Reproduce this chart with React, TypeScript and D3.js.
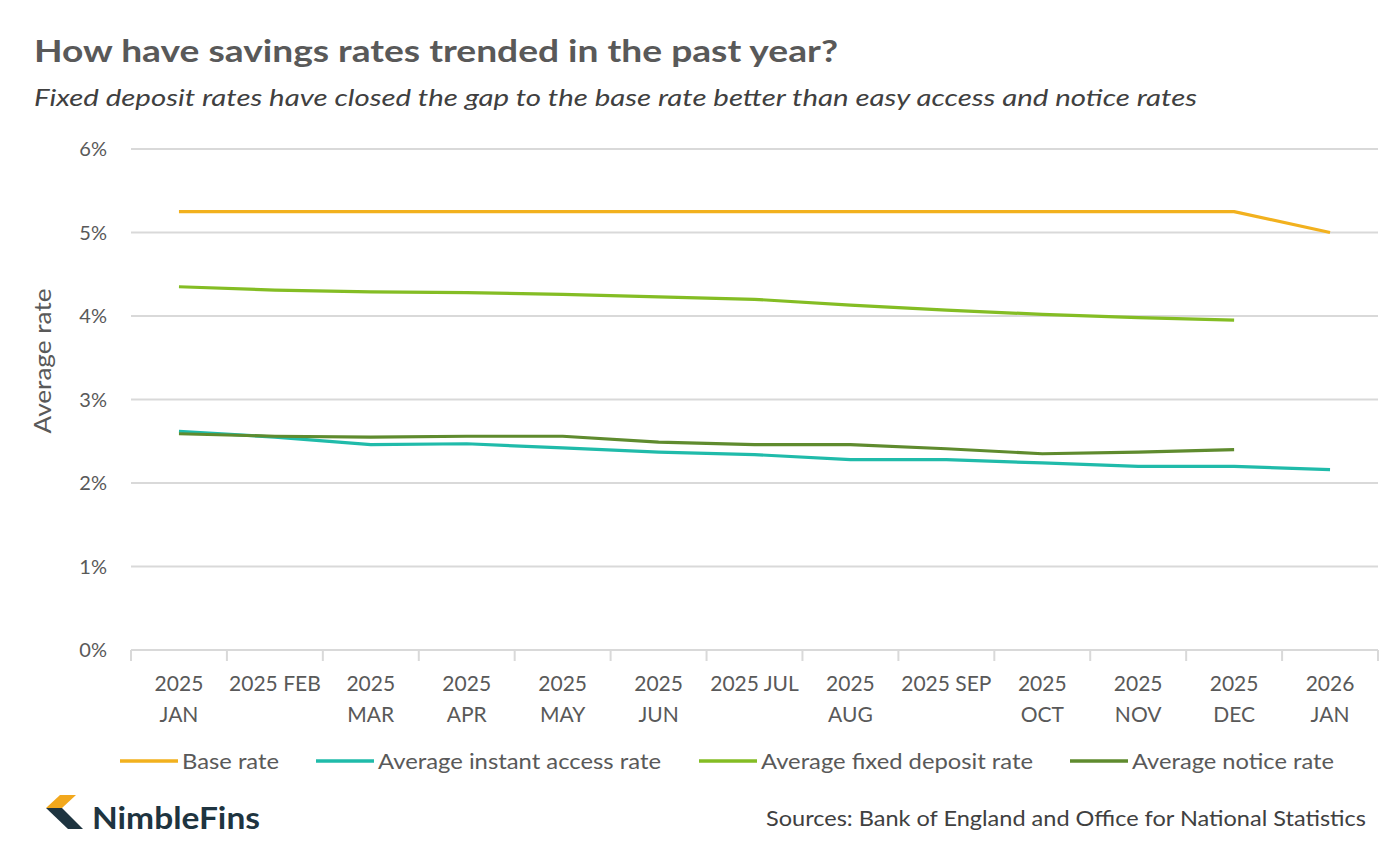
import React, { useEffect, useRef } from "react";
import * as d3 from "d3";

// month labels, already broken into lines the way the axis shows them
const months = [
  ["2025", "JAN"], ["2025 FEB"], ["2025", "MAR"], ["2025", "APR"], ["2025", "MAY"],
  ["2025", "JUN"], ["2025 JUL"], ["2025", "AUG"], ["2025 SEP"], ["2025", "OCT"],
  ["2025", "NOV"], ["2025", "DEC"], ["2026", "JAN"],
];

const baseRate = [5.25, 5.25, 5.25, 5.25, 5.25, 5.25, 5.25, 5.25, 5.25, 5.25, 5.25, 5.25, 5.0];
const instantAccess = [2.62, 2.55, 2.46, 2.47, 2.42, 2.37, 2.34, 2.28, 2.28, 2.24, 2.2, 2.2, 2.16];
const fixedDeposit = [4.35, 4.31, 4.29, 4.28, 4.26, 4.23, 4.2, 4.13, 4.07, 4.02, 3.98, 3.95, null];
const noticeRate = [2.59, 2.56, 2.55, 2.56, 2.56, 2.49, 2.46, 2.46, 2.41, 2.35, 2.37, 2.4, null];

const yTicks = [0, 1, 2, 3, 4, 5, 6];

const series = [
  { name: "Base rate", values: baseRate, color: "#F2B11E", width: 97 },
  { name: "Average instant access rate", values: instantAccess, color: "#20BBAA", width: 283 },
  { name: "Average fixed deposit rate", values: fixedDeposit, color: "#84BD24", width: 272 },
  { name: "Average notice rate", values: noticeRate, color: "#5F8B2E", width: 202 },
];

const W = 1400;
const H = 852;
const font = "Lato, 'Open Sans', sans-serif";
const grey = "#595959";

const SavingsChart = () => {
  const svgRef = useRef<SVGSVGElement>(null);

  useEffect(() => {
    const svg = d3.select(svgRef.current);
    svg.selectAll("*").remove();

    const left = 131;
    const right = 1378;
    const top = 149;
    const bottom = 650;

    const x = d3.scaleBand<number>().domain(months.map((_, i) => i)).range([left, right]);
    const y = d3.scaleLinear().domain([0, 6]).range([bottom, top]);
    const cx = (i: number) => (x(i) as number) + x.bandwidth() / 2;

    // titles
    svg.append("text")
      .attr("x", 34).attr("y", 62)
      .attr("font-family", font).attr("font-weight", 700).attr("font-size", 30)
      .attr("fill", grey)
      .attr("textLength", 804).attr("lengthAdjust", "spacingAndGlyphs")
      .text("How have savings rates trended in the past year?");
    svg.append("text")
      .attr("x", 34).attr("y", 106)
      .attr("font-family", font).attr("font-style", "italic").attr("font-size", 23)
      .attr("fill", "#404040")
      .attr("textLength", 1163).attr("lengthAdjust", "spacingAndGlyphs")
      .text("Fixed deposit rates have closed the gap to the base rate better than easy access and notice rates");

    // gridlines and y labels
    const grid = svg.append("g");
    grid.selectAll("line")
      .data(yTicks.filter((t) => t > 0))
      .join("line")
      .attr("x1", left).attr("x2", right)
      .attr("y1", (d) => y(d)).attr("y2", (d) => y(d))
      .attr("stroke", "#D9D9D9").attr("stroke-width", 2);
    grid.selectAll("text")
      .data(yTicks)
      .join("text")
      .attr("x", 107).attr("y", (d) => y(d)).attr("dy", "0.35em")
      .attr("text-anchor", "end")
      .attr("font-family", font).attr("font-size", 20).attr("fill", grey)
      .text((d) => `${d}%`);

    svg.append("text")
      .attr("transform", `translate(51,361) rotate(-90)`)
      .attr("text-anchor", "middle")
      .attr("font-family", font).attr("font-size", 23).attr("fill", grey)
      .attr("textLength", 145).attr("lengthAdjust", "spacingAndGlyphs")
      .text("Average rate");

    // x axis: baseline, ticks between months, wrapped labels
    const xAxis = svg.append("g");
    xAxis.append("line")
      .attr("x1", left).attr("x2", right).attr("y1", bottom).attr("y2", bottom)
      .attr("stroke", "#D9D9D9").attr("stroke-width", 2);
    xAxis.selectAll(".tick")
      .data(d3.range(months.length + 1))
      .join("line")
      .attr("class", "tick")
      .attr("x1", (i) => left + i * x.step()).attr("x2", (i) => left + i * x.step())
      .attr("y1", bottom).attr("y2", bottom + 11)
      .attr("stroke", "#D9D9D9").attr("stroke-width", 2);
    const labels = xAxis.selectAll(".lbl")
      .data(months)
      .join("text")
      .attr("class", "lbl")
      .attr("text-anchor", "middle")
      .attr("font-family", font).attr("font-size", 21).attr("fill", grey);
    labels.each(function (lines, i) {
      d3.select(this).selectAll("tspan")
        .data(lines)
        .join("tspan")
        .attr("x", cx(i))
        .attr("y", (_, j) => 691 + j * 31)
        .text((d) => d);
    });

    // series lines
    const line = d3.line<number | null>()
      .defined((d) => d != null)
      .x((_, i) => cx(i))
      .y((d) => y(d as number));
    svg.append("g").selectAll("path")
      .data(series)
      .join("path")
      .attr("d", (s) => line(s.values))
      .attr("fill", "none")
      .attr("stroke", (s) => s.color)
      .attr("stroke-width", 3.2)
      .attr("stroke-linejoin", "round");

    // legend
    const legendPos = [120, 316, 699, 1070];
    const legend = svg.append("g").selectAll("g")
      .data(series)
      .join("g")
      .attr("transform", (_, i) => `translate(${legendPos[i]},761)`);
    legend.append("line")
      .attr("x1", 0).attr("x2", 58)
      .attr("stroke", (s) => s.color).attr("stroke-width", 3.5);
    legend.append("text")
      .attr("x", 62).attr("dy", "0.35em")
      .attr("font-family", font).attr("font-size", 22).attr("fill", grey)
      .attr("textLength", (s) => s.width).attr("lengthAdjust", "spacingAndGlyphs")
      .text((s) => s.name);

    // brand mark
    const logo = svg.append("g").attr("transform", "translate(46,795)");
    logo.append("polygon")
      .attr("points", "14,0 30,0 16,13 0,13")
      .attr("fill", "#F2A81D");
    logo.append("polygon")
      .attr("points", "0,13 16,13 37,34 22,34")
      .attr("fill", "#1E3440");
    svg.append("text")
      .attr("x", 92).attr("y", 829)
      .attr("font-family", font).attr("font-weight", 700).attr("font-size", 30)
      .attr("fill", "#1E3440")
      .attr("textLength", 168).attr("lengthAdjust", "spacingAndGlyphs")
      .text("NimbleFins");

    svg.append("text")
      .attr("x", 1366).attr("y", 826)
      .attr("text-anchor", "end")
      .attr("font-family", font).attr("font-size", 22).attr("fill", "#404040")
      .attr("textLength", 600).attr("lengthAdjust", "spacingAndGlyphs")
      .text("Sources: Bank of England and Office for National Statistics");
  }, []);

  return <svg ref={svgRef} width={W} height={H} style={{ display: "block", background: "#fff" }} />;
};

export default function App() {
  return (
    <div style={{ margin: -8 }}>
      <SavingsChart />
    </div>
  );
}
